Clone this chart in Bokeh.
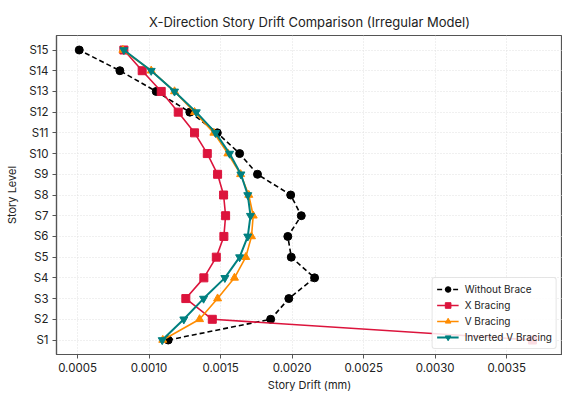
from bokeh.plotting import figure
from bokeh.models import Range1d, FixedTicker, Legend, LegendItem
from bokeh.embed import file_html
from bokeh.resources import INLINE

stories = ["S1", "S2", "S3", "S4", "S5", "S6", "S7", "S8", "S9", "S10", "S11", "S12", "S13", "S14", "S15"]
levels = list(range(1, 16))

without_brace = [0.001134, 0.00185, 0.001977, 0.002157, 0.001994, 0.00197, 0.002064, 0.00199,
                 0.001758, 0.001633, 0.001477, 0.001285, 0.00105, 0.000796, 0.000512]
x_bracing = [0.00368, 0.001442, 0.001257, 0.001383, 0.00147, 0.001523, 0.001535, 0.001521,
             0.001479, 0.001407, 0.001318, 0.001204, 0.001085, 0.000952, 0.000824]
v_bracing = [0.001096, 0.001353, 0.001479, 0.001597, 0.001676, 0.001716, 0.001728, 0.001697,
             0.00164, 0.001551, 0.001453, 0.001318, 0.001178, 0.001015, 0.000817]
inv_v_bracing = [0.001092, 0.001243, 0.001381, 0.00153, 0.001633, 0.00169, 0.001709, 0.00169,
                 0.001642, 0.001563, 0.001465, 0.00133, 0.001178, 0.001015, 0.000824]

x_ticks = [0.0005, 0.0010, 0.0015, 0.0020, 0.0025, 0.0030, 0.0035]

FONT = "Inter"

p = figure(width=562, height=394, output_backend="svg", toolbar_location=None,
           x_range=Range1d(0.000353, 0.00389), y_range=Range1d(0.3, 15.7),
           title="X-Direction Story Drift Comparison (Irregular Model)",
           min_border_left=56, min_border_right=0, min_border_top=35, min_border_bottom=2)

p.title.align = "center"
p.title.text_font = FONT
p.title.text_font_size = "13px"
p.title.text_font_style = "normal"
p.title.text_color = "#222222"
p.title.standoff = 11

p.xaxis.ticker = FixedTicker(ticks=x_ticks)
p.xaxis.major_label_overrides = {t: f"{t:.4f}" for t in x_ticks}
p.yaxis.ticker = FixedTicker(ticks=levels)
p.yaxis.major_label_overrides = {l: s for l, s in zip(levels, stories)}
p.xaxis.axis_label = "Story Drift (mm)"
p.yaxis.axis_label = "Story Level"

for ax in (p.xaxis[0], p.yaxis[0]):
    ax.axis_label_text_font = FONT
    ax.axis_label_text_font_size = "11px"
    ax.axis_label_text_font_style = "normal"
    ax.axis_label_text_color = "#222222"
    ax.major_label_text_font = FONT
    ax.major_label_text_font_size = "11.5px"
    ax.major_label_text_color = "#222222"
    ax.axis_line_color = "#555555"
    ax.axis_line_width = 1.2
    ax.major_tick_line_color = "#555555"
    ax.major_tick_in = 0
    ax.major_tick_out = 4
    ax.minor_tick_line_color = None
    ax.axis_label_standoff = 3

p.xaxis.major_label_standoff = 4
p.yaxis.major_label_standoff = 4
p.yaxis.axis_label_standoff = 7

p.outline_line_color = "#555555"
p.outline_line_width = 1.2

p.xgrid.grid_line_color = "#e0e0e0"
p.ygrid.grid_line_color = "#e0e0e0"
p.xgrid.grid_line_dash = "1 2"
p.ygrid.grid_line_dash = "1 2"

items = []
r1 = p.line(without_brace, levels, line_color="black", line_width=1.6, line_dash="5 3")
r1m = p.scatter(without_brace, levels, marker="circle", size=8, color="black")
items.append(LegendItem(label="Without Brace", renderers=[r1, r1m]))

r2 = p.line(x_bracing, levels, line_color="#DC143C", line_width=1.6)
r2m = p.scatter(x_bracing, levels, marker="square", size=8, color="#DC143C")
items.append(LegendItem(label="X Bracing", renderers=[r2, r2m]))

r3 = p.line(v_bracing, levels, line_color="#FF8C00", line_width=1.6)
r3m = p.scatter(v_bracing, levels, marker="triangle", size=8, color="#FF8C00")
items.append(LegendItem(label="V Bracing", renderers=[r3, r3m]))

r4 = p.line(inv_v_bracing, levels, line_color="#008080", line_width=2)
r4m = p.scatter(inv_v_bracing, levels, marker="inverted_triangle", size=8, color="#008080")
items.append(LegendItem(label="Inverted V Bracing", renderers=[r4, r4m]))

legend = Legend(items=items, location="bottom_right")
legend.label_text_font = FONT
legend.label_text_font_size = "10px"
legend.label_text_color = "#222222"
legend.glyph_width = 22
legend.glyph_height = 14
legend.label_height = 14
legend.label_standoff = 6
legend.spacing = 2
legend.padding = 4
legend.margin = 5
legend.border_line_color = "#cccccc"
legend.border_radius = 3
legend.background_fill_alpha = 0.85
p.add_layout(legend)

open("out.html", "w").write(file_html(p, INLINE))
